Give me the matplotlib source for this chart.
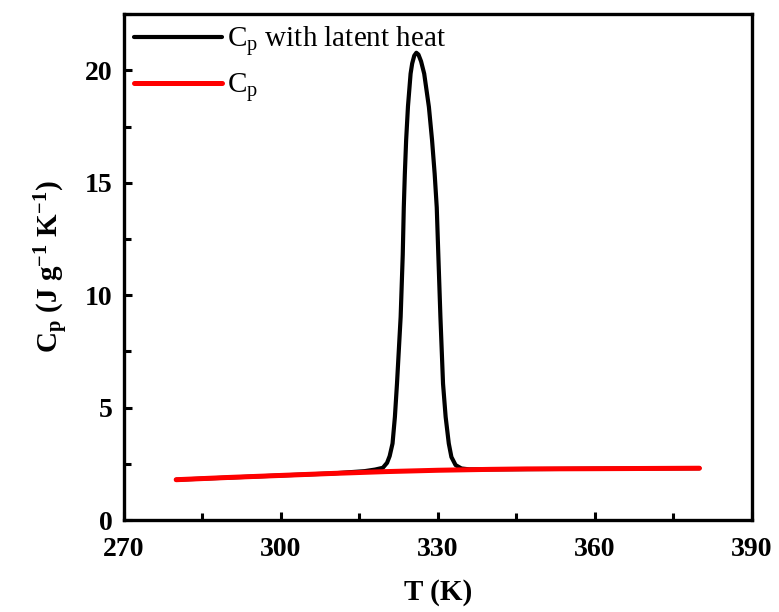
import matplotlib
matplotlib.use("Agg")
import matplotlib.pyplot as plt
from matplotlib.ticker import MultipleLocator

plt.rcParams['font.family'] = ['Liberation Serif', 'DejaVu Serif']
plt.rcParams['mathtext.fontset'] = 'custom'
plt.rcParams['mathtext.rm'] = 'Liberation Serif'
plt.rcParams['mathtext.it'] = 'Liberation Serif:italic'
plt.rcParams['mathtext.bf'] = 'Liberation Serif:bold'

# Cp without latent heat (red)
T_cp = [280, 290, 300, 310, 320, 330, 340, 347, 360, 370, 380]
Cp = [1.80, 1.90, 1.99, 2.08, 2.16, 2.22, 2.26, 2.28, 2.29, 2.30, 2.31]

# Cp with latent heat (black)
T_lat = [280, 300, 310, 316, 318, 319.5, 320.3, 320.8, 321.35, 321.8, 322.2,
         322.9, 323.3, 323.5, 323.7, 323.95, 324.3, 324.8, 325.1, 325.5,
         325.9, 326.3, 326.8, 327.4, 328.3, 328.9, 329.4, 329.8, 330.1,
         330.5, 331.0, 331.5, 332.1, 332.6, 333.4, 334.5, 336, 340, 360, 380]
Cp_lat = [1.80, 1.99, 2.08, 2.18, 2.25, 2.33, 2.55, 2.85, 3.41, 4.59, 6.07,
          9.04, 11.8, 13.9, 15.4, 16.9, 18.4, 19.85, 20.3, 20.65,
          20.78, 20.7, 20.4, 19.85, 18.37, 16.9, 15.4, 13.9, 11.8,
          9.04, 6.07, 4.59, 3.41, 2.81, 2.45, 2.30, 2.26, 2.26, 2.29, 2.31]

x_ticks = [270, 300, 330, 360, 390]
y_ticks = [0, 5, 10, 15, 20]

fig = plt.figure(figsize=(7.79, 6.12), dpi=100)
ax = fig.add_axes([0.159, 0.150, 0.806, 0.827])

ax.plot(T_lat, Cp_lat, color='black', lw=3.0, solid_capstyle='round',
        solid_joinstyle='round',
        label=r'C$_\mathregular{p}$ with latent heat')
ax.plot(T_cp, Cp, color='#ff0000', lw=3.6, solid_capstyle='round',
        label=r'C$_\mathregular{p}$')

ax.set_xlim(270, 390)
ax.set_ylim(0, 22.5)
ax.set_xticks(x_ticks)
ax.set_yticks(y_ticks)
ax.xaxis.set_minor_locator(MultipleLocator(15))
ax.yaxis.set_minor_locator(MultipleLocator(2.5))
ax.tick_params(which='both', direction='in', top=False, right=False, width=2.2)
ax.tick_params(which='major', length=6, labelsize=20)
ax.tick_params(axis='x', which='major', pad=12)
ax.tick_params(axis='y', which='major', pad=8)
ax.tick_params(which='minor', length=5)
for lbl in ax.get_xticklabels() + ax.get_yticklabels():
    lbl.set_fontweight('bold')
for sp in ax.spines.values():
    sp.set_linewidth(2.4)

ax.set_xlabel('T (K)', fontsize=21, fontweight='bold', labelpad=12)
ax.set_ylabel(r'$\mathbf{C_p}$ (J g$^{\mathbf{-1}}$ K$^{\mathbf{-1}}$)',
              fontsize=21, fontweight='bold', labelpad=10)

leg = ax.legend(loc='upper left', frameon=False, fontsize=21,
                handlelength=3.0, handletextpad=0.2, labelspacing=0.45,
                borderaxespad=0.3, borderpad=0.05)

fig.savefig('out.png', dpi=100)
